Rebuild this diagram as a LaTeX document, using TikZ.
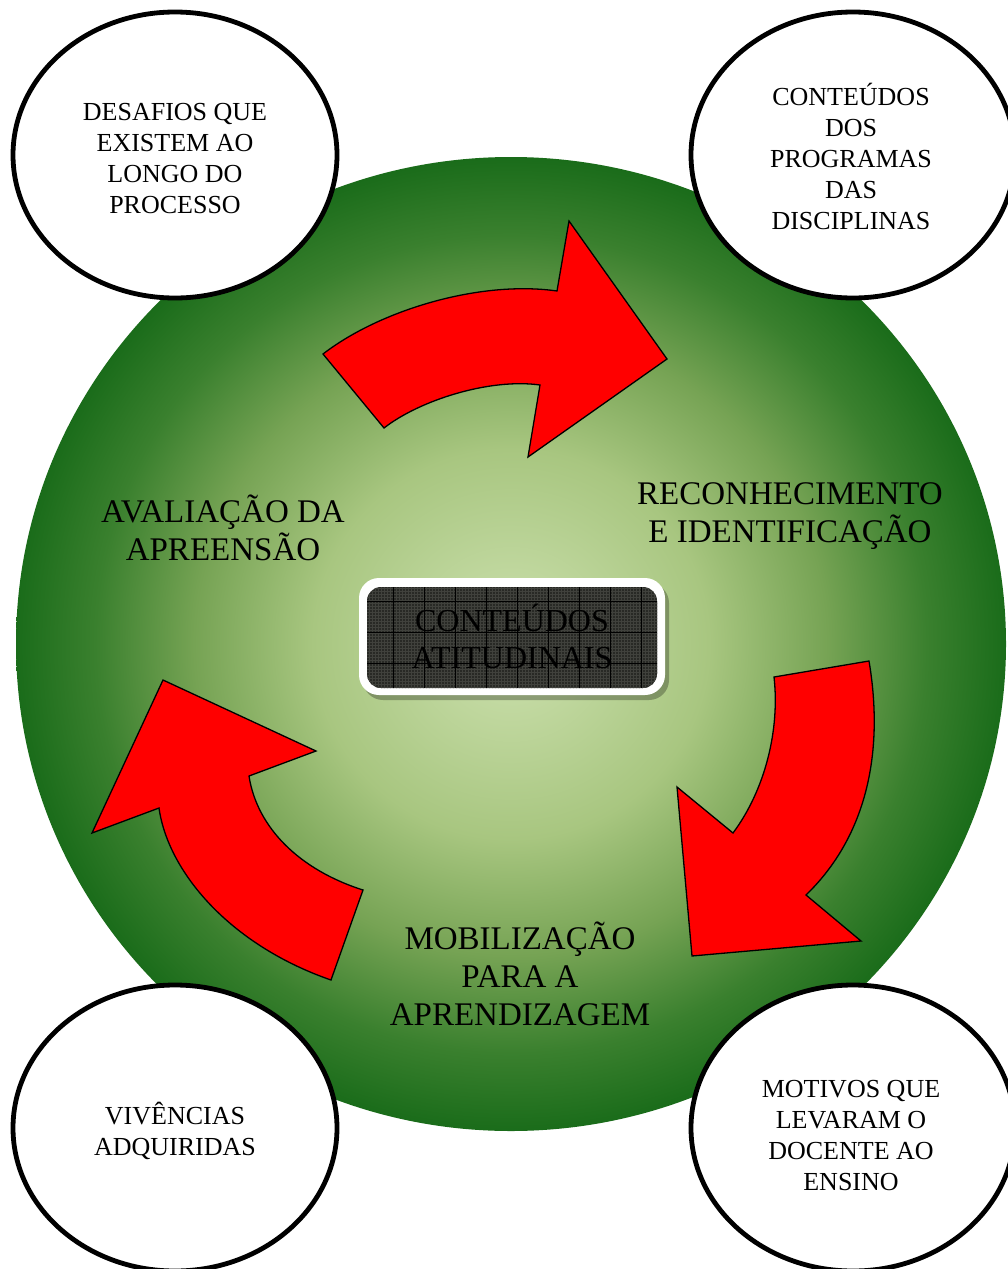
\documentclass[tikz,border=0pt]{standalone}
\usepackage{fontspec}
\setmainfont{Liberation Serif}
\usetikzlibrary{shapes.geometric,patterns}

\definecolor{gLight}{RGB}{205,225,175}
\definecolor{gMid}{RGB}{168,198,128}
\definecolor{gDeep}{RGB}{118,163,84}
\definecolor{gDark}{RGB}{58,128,46}
\definecolor{gEdge}{RGB}{26,108,26}
\definecolor{arrowred}{RGB}{255,0,0}
\definecolor{boxgray}{RGB}{40,41,37}
\definecolor{boxdots}{RGB}{64,65,60}

\pgfdeclareradialshading{greenball}{\pgfpoint{0bp}{0bp}}{%
  color(0bp)=(gLight); color(10bp)=(gMid); color(16bp)=(gDeep);
  color(21bp)=(gDark); color(25bp)=(gEdge); color(50bp)=(gEdge)}

\tikzset{
  bubble/.style={ellipse, draw, line width=4.8pt, fill=white, minimum width=324pt,
    minimum height=286pt, inner sep=0pt},
  bubbletext/.style={align=center, font=\fontsize{26}{31}\selectfont},
  stagetext/.style={align=center, font=\fontsize{33}{38}\selectfont},
  redarrow/.style={fill=arrowred, draw=black, line width=1.3pt, line join=miter}
}

\begin{document}
\begin{tikzpicture}[x=1pt,y=-1pt]
  \useasboundingbox (0,0) rectangle (1008,1269);
  \clip (0,0) rectangle (1008,1269);

  % big green disc
  \shade[shading=greenball] (511,644) ellipse (495 and 487);

  % curved red arrows
  \draw[redarrow] (323,354) .. controls (380,310) and (480,280) .. (557,291)
    -- (569,221) -- (667,359) -- (528,457) -- (540,385)
    .. controls (490,378) and (420,400) .. (384,428) -- cycle;
  \draw[redarrow] (774,677) -- (869,661) .. controls (884,750) and (868,835) .. (806,895)
    -- (861,941) -- (692,956) -- (677,787) -- (733,833)
    .. controls (765,790) and (780,730) .. (774,677) -- cycle;
  \draw[redarrow] (163,680) -- (316,751) -- (249,776)
    .. controls (257,828) and (300,870) .. (363,890) -- (331,980)
    .. controls (230,945) and (168,872) .. (159,808) -- (92,833) -- cycle;

  % central box
  \fill[black, opacity=0.28, rounded corners=20pt] (363,583) rectangle (669,700);
  \fill[white, rounded corners=20pt] (359,578) rectangle (665,695);
  \fill[boxgray, rounded corners=14pt] (367,587) rectangle (657,688);
  \fill[pattern=grid, pattern color=boxdots, rounded corners=14pt] (367,587) rectangle (657,688);
  \begin{scope}
    \clip[rounded corners=14pt] (367,587) rectangle (657,688);
    \foreach \gx in {393,424,...,660} \draw[black, line width=0.8pt] (\gx,587) -- (\gx,688);
    \foreach \gy in {601,632,663} \draw[black, line width=0.8pt] (367,\gy) -- (657,\gy);
  \end{scope}
  \node[stagetext, font=\fontsize{32}{37}\selectfont] (centro) at (512,636) {CONTEÚDOS\\ATITUDINAIS};

  % stage labels
  \node[stagetext] (reconhecimento) at (790,516) {RECONHECIMENTO\\E IDENTIFICAÇÃO};
  \node[stagetext] (avaliacao) at (223,528) {AVALIAÇÃO DA\\APREENSÃO};
  \node[stagetext] (mobilizacao) at (520,974) {MOBILIZAÇÃO\\PARA A\\APRENDIZAGEM};

  % corner bubbles
  \node[bubble] (desafios) at (175,155) {};
  \node[bubble] (conteudos) at (853,155) {};
  \node[bubble] (vivencias) at (175,1128) {};
  \node[bubble] (motivos) at (853,1128) {};
  \node[bubbletext] (desafiostxt) at (175,159) {DESAFIOS QUE\\EXISTEM AO\\LONGO DO\\PROCESSO};
  \node[bubbletext] (conteudostxt) at (851,156) {CONTEÚDOS\\DOS\\PROGRAMAS\\DAS\\DISCIPLINAS};
  \node[bubbletext] (vivenciastxt) at (175,1131) {VIVÊNCIAS\\ADQUIRIDAS};
  \node[bubbletext] (motivostxt) at (851,1136) {MOTIVOS QUE\\LEVARAM O\\DOCENTE AO\\ENSINO};
\end{tikzpicture}
\end{document}
